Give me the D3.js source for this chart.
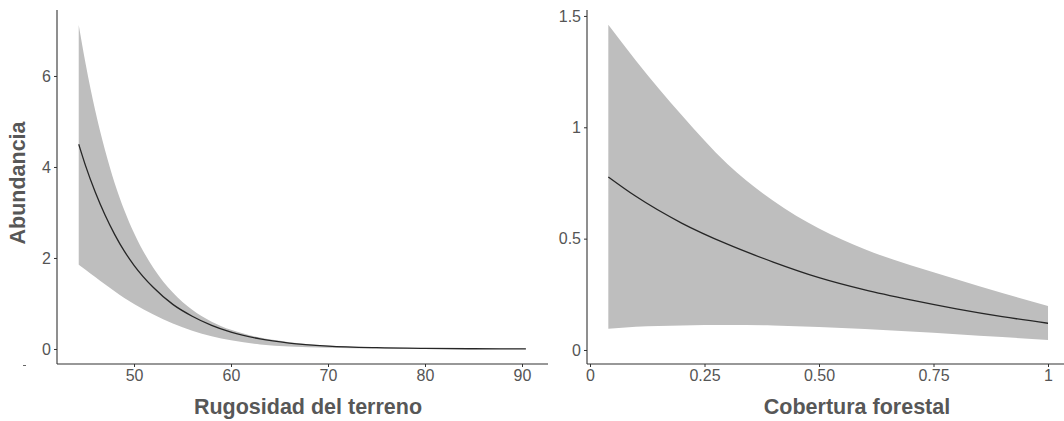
<!DOCTYPE html>
<html><head><meta charset="utf-8">
<script src="https://cdn.jsdelivr.net/npm/d3@7"></script>
<style>
html,body{margin:0;padding:0;background:#fff;}
svg{display:block;}
text{font-family:"Liberation Sans",Arial,Helvetica,sans-serif;}
</style></head>
<body>
<svg id="chart" width="1064" height="421"></svg>
<script>
// ---- Left panel: Rugosidad del terreno ----
const rugX     = [44.3, 45, 46, 47, 48, 49, 50, 52, 54, 56, 58, 60, 63, 66, 70, 75, 80, 85, 90.4];
const rugFit   = [4.50, 4.03, 3.45, 2.95, 2.52, 2.15, 1.84, 1.35, 0.98, 0.72, 0.52, 0.37, 0.22, 0.13, 0.065, 0.028, 0.012, 0.005, 0.002];
const rugUpper = [7.12, 6.28, 5.24, 4.38, 3.65, 3.05, 2.55, 1.78, 1.24, 0.86, 0.60, 0.42, 0.25, 0.15, 0.075, 0.032, 0.014, 0.006, 0.003];
const rugLower = [1.85, 1.74, 1.58, 1.42, 1.27, 1.12, 0.99, 0.76, 0.56, 0.40, 0.28, 0.19, 0.10, 0.055, 0.025, 0.01, 0.004, 0.002, 0.001];
const rugXTicks = [50, 60, 70, 80, 90];
const rugYTicks = [0, 2, 4, 6];

// ---- Right panel: Cobertura forestal ----
const cobX     = [0.04, 0.1, 0.2, 0.3, 0.4, 0.5, 0.6, 0.7, 0.8, 0.9, 1.0];
const cobFit   = [0.777, 0.69, 0.57, 0.475, 0.395, 0.325, 0.27, 0.225, 0.185, 0.15, 0.12];
const cobUpper = [1.46, 1.30, 1.055, 0.835, 0.67, 0.545, 0.452, 0.38, 0.318, 0.256, 0.198];
const cobLower = [0.095, 0.104, 0.11, 0.112, 0.11, 0.103, 0.094, 0.083, 0.071, 0.058, 0.045];
const cobXTicks = [0, 0.25, 0.5, 0.75, 1];
const cobXTickLabels = ["0", "0.25", "0.50", "0.75", "1"];
const cobYTicks = [0, 0.5, 1, 1.5];
const cobYTickLabels = ["0", "0.5", "1", "1.5"];

const yTitle = "Abundancia";
const leftTitle = "Rugosidad del terreno";
const rightTitle = "Cobertura forestal";

const svg = d3.select("#chart");
const axisColor = "#333333";
const textColor = "#555555";
const titleColor = "#575757";

function panel(cfg) {
  const g = svg.append("g");
  const x = d3.scaleLinear().domain(cfg.xDomain).range(cfg.xRange);
  const y = d3.scaleLinear().domain(cfg.yDomain).range([364, 10]);
  const rows = cfg.xs.map((v, i) => ({x: v, fit: cfg.fit[i], lo: cfg.lo[i], hi: cfg.hi[i]}));

  g.append("path").datum(rows)
    .attr("fill", "#bebebe")
    .attr("d", d3.area().curve(d3.curveMonotoneX)
      .x(d => x(d.x)).y0(d => y(d.lo)).y1(d => y(d.hi)));
  g.append("path").datum(rows)
    .attr("fill", "none").attr("stroke", "#262626").attr("stroke-width", 1.3)
    .attr("d", d3.line().curve(d3.curveMonotoneX).x(d => x(d.x)).y(d => y(d.fit)));

  const xa = g.append("g").attr("transform", "translate(0,364)")
    .call(d3.axisBottom(x).tickValues(cfg.xTicks).tickSize(3).tickPadding(3)
      .tickFormat((d, i) => cfg.xLabels ? cfg.xLabels[i] : d3.format("d")(d)));
  const ya = g.append("g").attr("transform", `translate(${cfg.xRange[0]},0)`)
    .call(d3.axisLeft(y).tickValues(cfg.yTicks).tickSize(3).tickPadding(3)
      .tickFormat((d, i) => cfg.yLabels ? cfg.yLabels[i] : d3.format("d")(d)));
  [xa, ya].forEach(a => {
    a.select(".domain").attr("stroke", axisColor).attr("stroke-width", 1.1);
    a.selectAll(".tick line").attr("stroke", axisColor);
    a.selectAll(".tick text").attr("fill", textColor).attr("font-size", 16);
  });
  ya.select(".domain").attr("d", `M0,364V10`);
  xa.select(".domain").attr("d", `M${cfg.xRange[0]},0H${cfg.axisEnd}`);

  g.append("text")
    .attr("x", cfg.titleX).attr("y", 414)
    .attr("text-anchor", "middle")
    .attr("font-size", 21.5).attr("font-weight", "bold").attr("fill", titleColor)
    .text(cfg.title);
  return {x, y};
}

panel({
  xs: rugX, fit: rugFit, lo: rugLower, hi: rugUpper,
  xDomain: [42.06, 92.68], xRange: [57, 548], axisEnd: 548,
  yDomain: [-0.33, 7.45],
  xTicks: rugXTicks, yTicks: rugYTicks,
  title: leftTitle, titleX: 308
});

panel({
  xs: cobX, fit: cobFit, lo: cobLower, hi: cobUpper,
  xDomain: [-0.00655, 1.0349], xRange: [587, 1064], axisEnd: 1064,
  yDomain: [-0.0629, 1.5267],
  xTicks: cobXTicks, yTicks: cobYTicks,
  xLabels: cobXTickLabels, yLabels: cobYTickLabels,
  title: rightTitle, titleX: 857
});

svg.append("text")
  .attr("transform", "translate(25,183) rotate(-90)")
  .attr("text-anchor", "middle")
  .attr("font-size", 21.5).attr("font-weight", "bold").attr("fill", titleColor)
  .text(yTitle);

// small stray dash below the left y axis labels
svg.append("line").attr("x1", 23).attr("x2", 26).attr("y1", 365.5).attr("y2", 365.5)
  .attr("stroke", "#666").attr("stroke-width", 1);
</script>
</body></html>
